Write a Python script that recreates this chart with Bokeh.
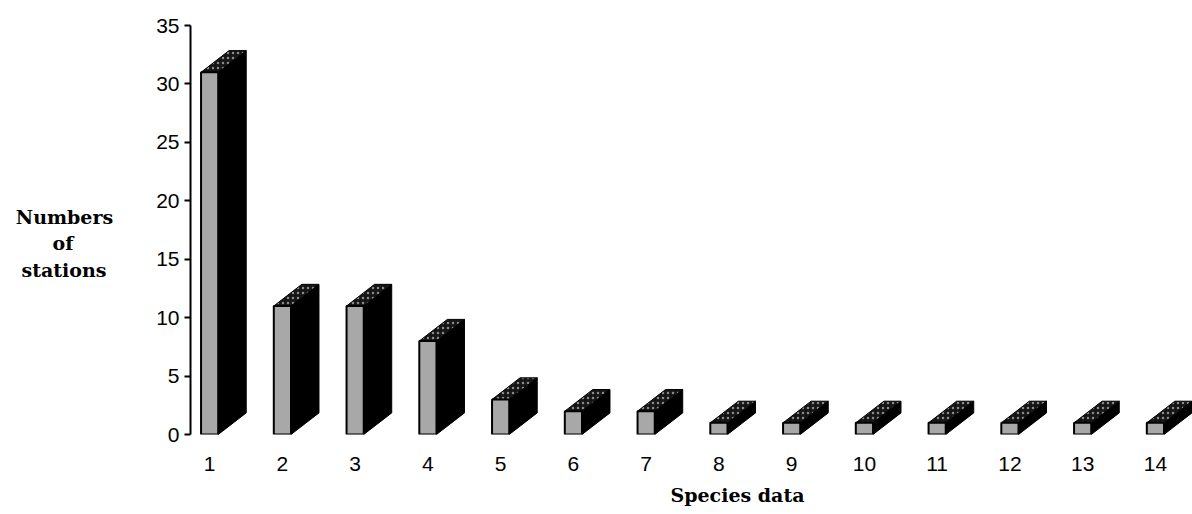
from bokeh.plotting import figure
from bokeh.models import Range1d, FixedTicker, Title
from bokeh.embed import file_html
from bokeh.resources import INLINE

categories = list(range(1, 15))
counts = [31, 11, 11, 8, 3, 2, 2, 1, 1, 1, 1, 1, 1, 1]
y_ticks = [0, 5, 10, 15, 20, 25, 30, 35]
x_title = "Species data"
y_title_lines = ["Numbers", "of", "stations"]

# 3-D look (data units)
half_w = 0.118
dx = 0.385
dy = 1.85

p = figure(width=1192, height=514, output_backend="svg", toolbar_location=None,
           x_range=Range1d(0.737, 14.51), y_range=Range1d(0, 35),
           min_border_left=190, min_border_right=0, min_border_top=25,
           min_border_bottom=80)
p.outline_line_color = None
p.xgrid.visible = False
p.ygrid.visible = False

side_xs, side_ys, top_xs, top_ys = [], [], [], []
for c, v in zip(categories, counts):
    l, r = c - half_w, c + half_w
    side_xs.append([r, r + dx, r + dx, r])
    side_ys.append([0, dy, v + dy, v])
    top_xs.append([l, r, r + dx, l + dx])
    top_ys.append([v, v, v + dy, v + dy])

p.patches(side_xs, side_ys, fill_color="black", line_color="black", line_width=1)
p.patches(top_xs, top_ys, fill_color="#151515", line_color="black", line_width=1,
          hatch_pattern="dot", hatch_color="#8a8a8a", hatch_scale=5, hatch_weight=1)
p.quad(left=[c - half_w for c in categories], right=[c + half_w for c in categories],
       bottom=0, top=counts, fill_color="#a8a8a8", line_color="black", line_width=2)

tick_font = "Liberation Sans"

p.yaxis.ticker = FixedTicker(ticks=y_ticks)
p.yaxis.minor_tick_line_color = None
p.yaxis.major_tick_in = 0
p.yaxis.major_tick_out = 6
p.yaxis.major_label_standoff = 5
p.yaxis.axis_line_width = 2
p.yaxis.major_tick_line_width = 2
p.yaxis.major_label_text_font = tick_font
p.yaxis.major_label_text_font_size = "21px"
p.yaxis.major_label_text_color = "black"

# multi-line horizontal axis title; lines visually centred with no-break spaces
nb = "\u00a0"
y_title = "\n" + "\n".join([y_title_lines[0],
                            y_title_lines[1] + nb * 6,
                            y_title_lines[2] + nb])
p.yaxis.axis_label = y_title
p.yaxis.axis_label_orientation = "horizontal"
p.yaxis.axis_label_text_font = "DejaVu Serif"
p.yaxis.axis_label_text_font_style = "bold"
p.yaxis.axis_label_text_font_size = "19px"
p.yaxis.axis_label_text_color = "black"
p.yaxis.axis_label_standoff = 40
p.yaxis.axis_label_text_line_height = 1.2

p.xaxis.ticker = FixedTicker(ticks=categories)
p.xaxis.axis_line_color = None
p.xaxis.major_tick_line_color = None
p.xaxis.minor_tick_line_color = None
p.xaxis.major_tick_out = 0
p.xaxis.major_tick_in = 0
p.xaxis.major_label_standoff = 22
p.xaxis.major_label_text_font = tick_font
p.xaxis.major_label_text_font_size = "21px"
p.xaxis.major_label_text_color = "black"

p.add_layout(Title(text=x_title, align="left", offset=480, text_font="DejaVu Serif",
                   text_font_style="bold", text_font_size="19px", text_color="black",
                   standoff=17), "below")

open("out.html", "w").write(file_html(p, INLINE))
